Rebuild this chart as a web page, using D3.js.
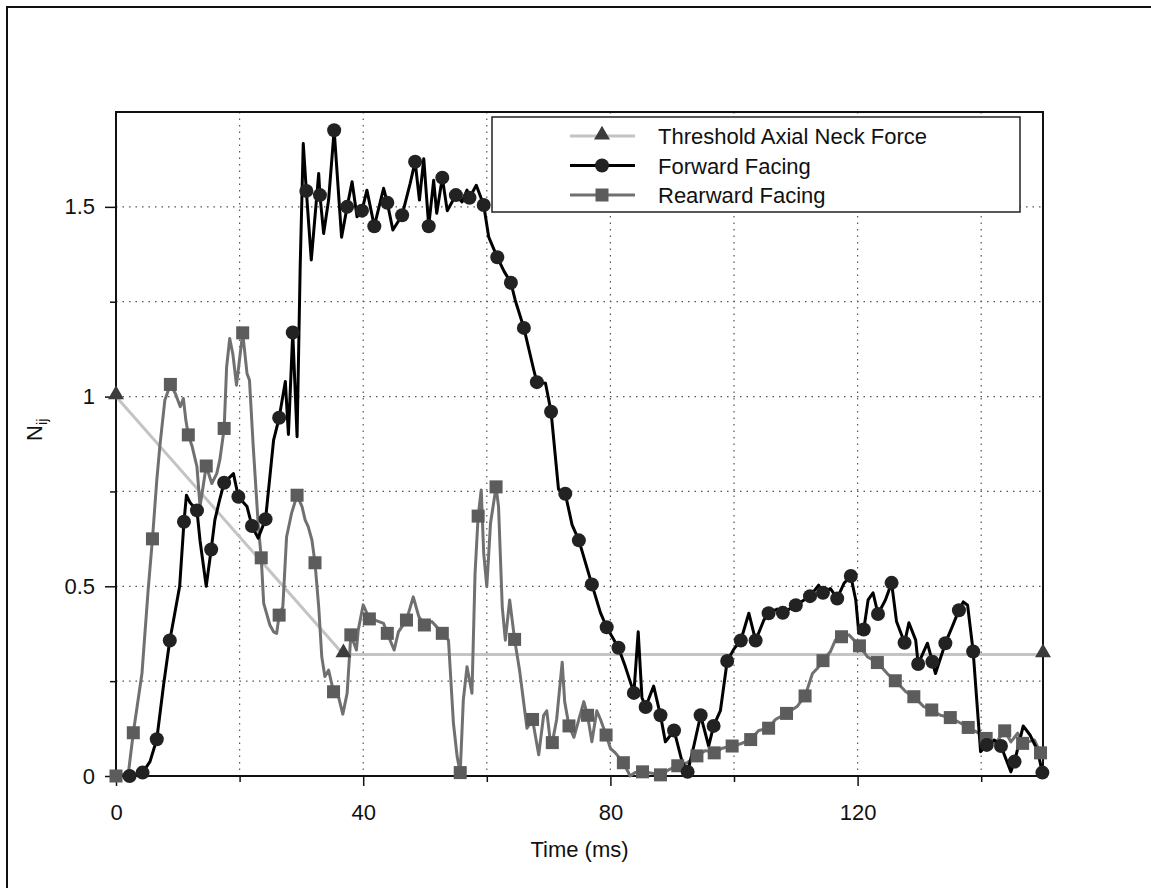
<!DOCTYPE html>
<html>
<head>
<meta charset="utf-8">
<script src="https://cdn.jsdelivr.net/npm/d3@7/dist/d3.min.js"></script>
<style>
  html, body { margin: 0; padding: 0; background: #fff; }
  svg { display: block; font-family: "Liberation Sans", Arial, sans-serif; }
</style>
</head>
<body>
<svg id="chart" width="1151" height="888"></svg>
<script>
// ---------- data ----------
const seriesNames = ["Threshold Axial Neck Force", "Forward Facing", "Rearward Facing"];
const xTicks = [0, 40, 80, 120];
const xMinorTicks = [20, 60, 100, 140];
const yTicks = [0, 0.5, 1, 1.5];
const yTickLabels = ["0", "0.5", "1", "1.5"];
const yMinorTicks = [0.25, 0.75, 1.25];

// Threshold: [time, value]
const thresholdData = [[0, 1.0], [36.8, 0.32], [150, 0.32]];

// Forward facing: [time, value, marker(1)]
const forwardData = [
  [0,0,0],[1.2,0.0,0],[2.2,0.0,1],[3.3,0.004,0],[4.3,0.009,1],[5.5,0.038,0],[6.6,0.097,1],[7.7,0.24,0],
  [8.7,0.357,1],[9.3,0.41,0],[10.3,0.50,0],[11.0,0.67,1],[11.4,0.74,0],[12.0,0.72,0],[13.1,0.70,1],
  [13.6,0.62,0],[14.6,0.50,0],[15.4,0.597,1],[16.0,0.675,0],[16.8,0.73,0],[17.5,0.773,1],[19.0,0.797,0],
  [19.8,0.736,1],[21.2,0.71,0],[22.0,0.659,1],[23.0,0.627,0],[24.2,0.677,1],[25.5,0.885,0],[26.4,0.944,1],
  [27.4,1.04,0],[27.9,0.90,0],[28.6,1.169,1],[29.3,0.894,0],[29.8,1.34,0],[30.3,1.667,0],[30.8,1.542,1],
  [31.6,1.36,0],[32.8,1.588,0],[33.0,1.531,1],[33.6,1.43,0],[34.4,1.518,0],[35.3,1.702,1],[36.5,1.42,0],
  [37.4,1.50,1],[38.2,1.566,0],[39.0,1.474,0],[39.8,1.49,1],[40.6,1.544,0],[41.8,1.449,1],[43.3,1.549,0],
  [43.9,1.511,1],[44.8,1.439,0],[46.3,1.478,1],[47.6,1.562,0],[48.4,1.619,1],[49.1,1.518,0],[49.8,1.627,0],
  [50.6,1.449,1],[51.4,1.57,0],[51.9,1.483,0],[52.8,1.577,1],[53.6,1.49,0],[55.0,1.531,1],[56.0,1.513,0],
  [56.8,1.544,0],[57.2,1.524,1],[58.3,1.557,0],[59.5,1.505,1],[60.3,1.421,0],[61.7,1.367,1],[62.8,1.33,0],
  [63.9,1.30,1],[64.6,1.254,0],[66.0,1.181,1],[67.6,1.07,0],[68.1,1.038,1],[69.5,1.035,0],[70.4,0.96,1],
  [71.6,0.756,0],[72.7,0.744,1],[73.8,0.662,0],[74.9,0.621,1],[77.0,0.505,1],[78.4,0.43,0],[79.4,0.392,1],
  [81.3,0.338,1],[82.4,0.289,0],[83.8,0.219,1],[84.5,0.38,0],[85.1,0.207,0],[85.7,0.182,1],[87.0,0.237,0],
  [88.1,0.16,1],[88.9,0.09,0],[90.3,0.12,1],[91.6,0.038,0],[92.5,0.011,1],[93.5,0.079,0],[94.6,0.16,1],
  [95.9,0.079,0],[96.7,0.132,1],[97.8,0.172,0],[98.9,0.303,1],[100.0,0.335,0],[101.1,0.357,1],[102.4,0.429,0],
  [103.5,0.357,1],[104.8,0.41,0],[105.6,0.429,1],[107.0,0.44,0],[107.9,0.43,1],[110.0,0.45,1],[112.3,0.474,1],
  [113.7,0.503,0],[114.4,0.483,1],[115.6,0.494,0],[116.7,0.468,1],[117.8,0.508,0],[118.9,0.527,1],[119.7,0.464,0],
  [120.2,0.376,0],[121.0,0.386,1],[121.7,0.464,0],[122.5,0.483,0],[123.3,0.427,1],[124.5,0.464,0],[125.5,0.509,1],
  [126.3,0.407,0],[127.6,0.351,1],[128.3,0.404,0],[129.4,0.358,0],[129.8,0.295,1],[131.3,0.35,0],[132.1,0.301,1],
  [132.6,0.27,0],[134.2,0.35,1],[135.3,0.393,0],[136.4,0.437,1],[137.1,0.459,0],[137.8,0.45,0],[138.7,0.328,1],
  [139.9,0.064,0],[140.9,0.082,1],[142.1,0.095,0],[143.2,0.079,1],[144.8,0.011,0],[145.4,0.038,1],[146.8,0.132,0],
  [147.9,0.108,0],[149.1,0.068,0],[149.9,0.009,1]
];

// Rearward facing: [time, value, marker(1)]
const rearwardData = [
  [0,0,1],[2.0,0.007,0],[2.8,0.114,1],[4.2,0.27,0],[5.2,0.49,0],[5.9,0.625,1],[6.6,0.78,0],[7.1,0.87,0],
  [7.9,0.99,0],[8.8,1.032,1],[9.6,1.008,0],[10.4,0.973,0],[10.9,0.995,0],[11.3,0.938,0],[11.7,0.899,1],
  [12.3,0.87,0],[13.1,0.815,0],[13.6,0.71,0],[14.6,0.817,1],[15.5,0.771,0],[16.3,0.797,0],[16.8,0.833,0],
  [17.5,0.916,1],[17.9,1.078,0],[18.4,1.153,0],[18.9,1.113,0],[19.5,1.03,0],[20.1,1.113,0],[20.5,1.168,1],
  [21.2,1.061,0],[21.6,1.043,0],[22.2,0.87,0],[23.0,0.666,0],[23.5,0.575,1],[23.9,0.455,0],[24.9,0.398,0],
  [25.5,0.38,0],[26.0,0.376,0],[26.4,0.424,1],[27.0,0.446,0],[27.6,0.63,0],[28.4,0.692,0],[29.3,0.74,1],
  [30.1,0.71,0],[30.6,0.675,0],[31.1,0.657,0],[31.7,0.622,0],[32.2,0.562,1],[32.8,0.446,0],[33.3,0.314,0],
  [33.8,0.262,0],[34.4,0.279,0],[35.2,0.222,1],[36.0,0.209,0],[36.7,0.163,0],[37.4,0.218,0],[38.0,0.372,1],
  [38.9,0.332,0],[39.2,0.385,0],[40.0,0.451,0],[41.0,0.414,1],[41.9,0.411,0],[43.3,0.402,0],[43.9,0.376,1],
  [45.0,0.332,0],[45.7,0.38,0],[47.0,0.411,1],[48.1,0.472,0],[49.0,0.42,0],[49.9,0.398,1],[51.1,0.407,0],
  [51.9,0.393,0],[52.8,0.376,1],[53.8,0.358,0],[54.6,0.139,0],[55.2,0.051,0],[55.7,0.009,1],[56.2,0.2,0],
  [56.8,0.288,0],[57.6,0.218,0],[58.1,0.534,0],[58.6,0.685,1],[59.1,0.754,0],[59.5,0.587,0],[60.0,0.499,0],
  [60.6,0.666,0],[61.5,0.762,1],[61.9,0.71,0],[62.5,0.446,0],[63.0,0.358,0],[63.7,0.464,0],[64.5,0.36,1],
  [65.3,0.279,0],[66.5,0.126,0],[67.4,0.149,1],[68.4,0.056,0],[69.2,0.16,0],[69.7,0.172,0],[70.2,0.102,0],
  [70.6,0.088,1],[71.3,0.149,0],[72.2,0.3,0],[72.6,0.196,0],[73.3,0.132,1],[74.1,0.102,0],[74.9,0.149,0],
  [75.7,0.196,0],[76.3,0.16,1],[77.0,0.09,0],[77.8,0.172,0],[78.4,0.149,0],[79.3,0.108,1],[80.0,0.073,0],
  [80.8,0.061,0],[82.1,0.035,1],[83.2,0.0,0],[84.0,0.009,0],[85.2,0.011,1],[86.5,0.008,0],[88.1,0.003,1],
  [89.4,0.016,0],[90.9,0.027,1],[92.4,0.035,0],[94.0,0.053,1],[95.4,0.067,0],[96.8,0.061,1],[98.1,0.073,0],
  [99.7,0.079,1],[101.1,0.085,0],[102.7,0.096,1],[104.0,0.12,0],[105.6,0.126,1],[106.7,0.149,0],[108.5,0.165,1],
  [110.2,0.183,0],[111.5,0.211,1],[112.7,0.27,0],[113.5,0.284,0],[114.4,0.304,1],[115.6,0.328,0],[116.4,0.358,0],
  [117.4,0.367,1],[118.6,0.372,0],[120.3,0.343,1],[121.6,0.314,0],[123.2,0.299,1],[124.8,0.27,0],[126.1,0.251,1],
  [127.8,0.222,0],[129.1,0.209,1],[130.7,0.183,0],[132.0,0.174,1],[133.4,0.16,0],[135.0,0.154,1],[136.7,0.139,0],
  [137.9,0.128,1],[139.6,0.113,0],[140.8,0.099,1],[142.3,0.086,0],[143.8,0.119,1],[144.8,0.09,0],[145.9,0.113,0],
  [146.7,0.086,1],[148.6,0.095,0],[149.6,0.061,1]
];

// ---------- layout ----------
const svg = d3.select("#chart");
const pLeft = 116, pRight = 1043, pTop = 112, pBottom = 776;
const x = d3.scaleLinear().domain([0, 150]).range([pLeft, pRight]);
const y = d3.scaleLinear().domain([0, 1.75]).range([pBottom, pTop]);

const FONT = 22;
const colThreshLine = "#c4c4c4", colThreshMark = "#3c3c3c";
const colFwdLine = "#000000", colFwdMark = "#222222";
const colRearLine = "#707070", colRearMark = "#5c5c5c";

// outer frame (only top/left visible within the image)
svg.append("rect").attr("x", 7).attr("y", 7).attr("width", 1200).attr("height", 1000)
  .attr("fill", "none").attr("stroke", "#111").attr("stroke-width", 2);

// gridlines
const grid = svg.append("g");
[20, 40, 60, 80, 100, 120, 140].forEach(t => {
  grid.append("line").attr("x1", x(t)).attr("x2", x(t)).attr("y1", pTop).attr("y2", pBottom)
    .attr("stroke", "#555").attr("stroke-width", 1.2).attr("stroke-dasharray", "1.5,5");
});
[0.25, 0.5, 0.75, 1, 1.25, 1.5].forEach(v => {
  grid.append("line").attr("x1", pLeft).attr("x2", pRight).attr("y1", y(v)).attr("y2", y(v))
    .attr("stroke", "#555").attr("stroke-width", 1.2).attr("stroke-dasharray", "1.5,5");
});

// axes
const xAxis = d3.axisBottom(x).tickValues(xTicks).tickSize(10).tickPadding(18).tickFormat(d3.format("d"));
const gx = svg.append("g").attr("transform", `translate(0,${pBottom})`).call(xAxis);
const xAxisMinor = d3.axisBottom(x).tickValues(xMinorTicks).tickSize(6).tickFormat("");
const gxm = svg.append("g").attr("transform", `translate(0,${pBottom})`).call(xAxisMinor);

const yAxis = d3.axisLeft(y).tickValues(yTicks).tickSize(11).tickPadding(10)
  .tickFormat((d, i) => yTickLabels[i]);
const gy = svg.append("g").attr("transform", `translate(${pLeft},0)`).call(yAxis);
const yAxisMinor = d3.axisLeft(y).tickValues(yMinorTicks).tickSize(6).tickFormat("");
const gym = svg.append("g").attr("transform", `translate(${pLeft},0)`).call(yAxisMinor);

[gx, gxm, gy, gym].forEach(g => {
  g.select(".domain").remove();
  g.selectAll("line").attr("stroke", "#111").attr("stroke-width", 1.5);
  g.selectAll("text").attr("font-size", FONT).attr("fill", "#111")
    .attr("font-family", "'Liberation Sans', Arial, sans-serif");
});

// plot box
svg.append("rect").attr("x", pLeft).attr("y", pTop).attr("width", pRight - pLeft).attr("height", pBottom - pTop)
  .attr("fill", "none").attr("stroke", "#111").attr("stroke-width", 2);

// axis titles
svg.append("text").attr("x", (pLeft + pRight) / 2).attr("y", 857).attr("text-anchor", "middle")
  .attr("font-size", FONT).attr("fill", "#111").text("Time (ms)");
const yl = svg.append("text").attr("transform", "translate(42,441) rotate(-90)")
  .attr("text-anchor", "start").attr("font-size", FONT).attr("fill", "#111");
yl.append("tspan").text("N");
yl.append("tspan").attr("font-size", 15).attr("dy", 5).text("ij");

// lines
const line = d3.line().x(d => x(d[0])).y(d => y(d[1]));
const plot = svg.append("g");

plot.append("path").datum(thresholdData).attr("d", line).attr("fill", "none")
  .attr("stroke", colThreshLine).attr("stroke-width", 3);
plot.append("path").datum(rearwardData).attr("d", line).attr("fill", "none")
  .attr("stroke", colRearLine).attr("stroke-width", 3).attr("stroke-linejoin", "round");
plot.append("path").datum(forwardData).attr("d", line).attr("fill", "none")
  .attr("stroke", colFwdLine).attr("stroke-width", 3).attr("stroke-linejoin", "round");

// markers
const sqSize = 13;
plot.selectAll(".rsq").data(rearwardData.filter(d => d[2])).join("rect")
  .attr("x", d => x(d[0]) - sqSize / 2).attr("y", d => y(d[1]) - sqSize / 2)
  .attr("width", sqSize).attr("height", sqSize).attr("fill", colRearMark);
plot.selectAll(".fc").data(forwardData.filter(d => d[2])).join("circle")
  .attr("cx", d => x(d[0])).attr("cy", d => y(d[1])).attr("r", 7).attr("fill", colFwdMark);
const tri = d3.symbol().type(d3.symbolTriangle).size(110);
plot.selectAll(".tri").data(thresholdData).join("path")
  .attr("d", tri).attr("transform", d => `translate(${x(d[0])},${y(d[1]) - 2})`).attr("fill", colThreshMark);

// legend
const lg = svg.append("g");
lg.append("rect").attr("x", 492).attr("y", 117).attr("width", 528).attr("height", 95)
  .attr("fill", "#fff").attr("stroke", "#222").attr("stroke-width", 1.5);
const legendRows = [
  { name: seriesNames[0], line: colThreshLine, mark: colThreshMark, shape: "tri" },
  { name: seriesNames[1], line: colFwdLine, mark: colFwdMark, shape: "circle" },
  { name: seriesNames[2], line: colRearLine, mark: colRearMark, shape: "square" }
];
legendRows.forEach((r, i) => {
  const cy = 136 + i * 29.5;
  lg.append("line").attr("x1", 570).attr("x2", 635).attr("y1", cy).attr("y2", cy)
    .attr("stroke", r.line).attr("stroke-width", 3);
  if (r.shape === "tri") {
    lg.append("path").attr("d", tri).attr("transform", `translate(602,${cy - 1})`).attr("fill", r.mark);
  } else if (r.shape === "circle") {
    lg.append("circle").attr("cx", 602).attr("cy", cy).attr("r", 7).attr("fill", r.mark);
  } else {
    lg.append("rect").attr("x", 602 - sqSize / 2).attr("y", cy - sqSize / 2)
      .attr("width", sqSize).attr("height", sqSize).attr("fill", r.mark);
  }
  lg.append("text").attr("x", 658).attr("y", cy + 8).attr("font-size", FONT).attr("fill", "#111").text(r.name);
});
</script>
</body>
</html>
